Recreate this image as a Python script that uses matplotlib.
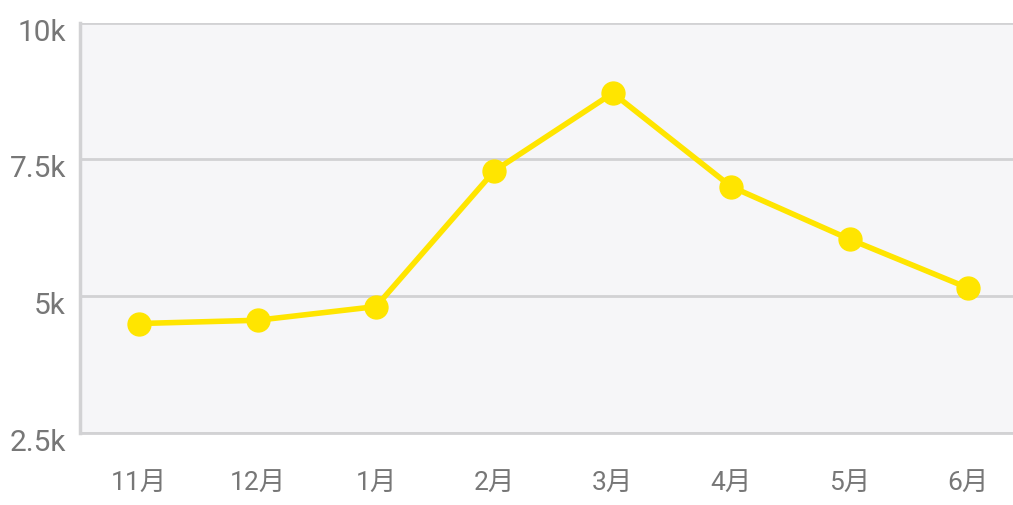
import matplotlib
matplotlib.use("Agg")
import matplotlib.pyplot as plt
import matplotlib.transforms as mtransforms

categories = ["11月", "12月", "1月", "2月", "3月", "4月", "5月", "6月"]
values = [4500, 4560, 4810, 7290, 8710, 7000, 6040, 5150]
yticks = [2500, 5000, 7500, 10000]
ytick_labels = ["2.5k", "5k", "7.5k", "10k"]

plt.rcParams['font.family'] = ['Roboto', 'Noto Sans CJK SC', 'DejaVu Sans']

W, H = 1013, 506
fig = plt.figure(figsize=(W / 100, H / 100), dpi=100)
ax = fig.add_axes([80 / W, 1 - 434 / H, (W - 80) / W, (434 - 23.5) / H])
ax.set_facecolor("#f6f6f8")

x = list(range(len(categories)))
ax.plot(x, values, color="#ffe500", linewidth=4.0, marker="o", markersize=16.5,
        markerfacecolor="#ffe500", markeredgecolor="#ffe500", zorder=3,
        clip_on=False)

ax.set_xlim(-0.5, 7.38)
ax.set_ylim(2500, 10000)
ax.set_yticks(yticks)
ax.set_yticklabels(ytick_labels)
ax.set_xticks(x)
ax.set_xticklabels(categories)

ax.grid(axis="y", color="#d2d2d4", linewidth=2.0, zorder=1)
ax.set_axisbelow(True)
for side in ["top", "right"]:
    ax.spines[side].set_visible(False)
ax.spines["left"].set_color("#d2d2d4")
ax.spines["left"].set_linewidth(2.5)
ax.spines["bottom"].set_color("#d2d2d4")
ax.spines["bottom"].set_linewidth(2.0)

ax.tick_params(axis="y", length=0, pad=10, labelsize=21.5, labelcolor="#777777")
ax.tick_params(axis="x", length=0, pad=27, labelsize=19, labelcolor="#777777")

offset = mtransforms.ScaledTranslation(0, -6 / 100, fig.dpi_scale_trans)
for lbl in ax.get_yticklabels():
    lbl.set_transform(lbl.get_transform() + offset)

fig.savefig("out.png", dpi=100)
